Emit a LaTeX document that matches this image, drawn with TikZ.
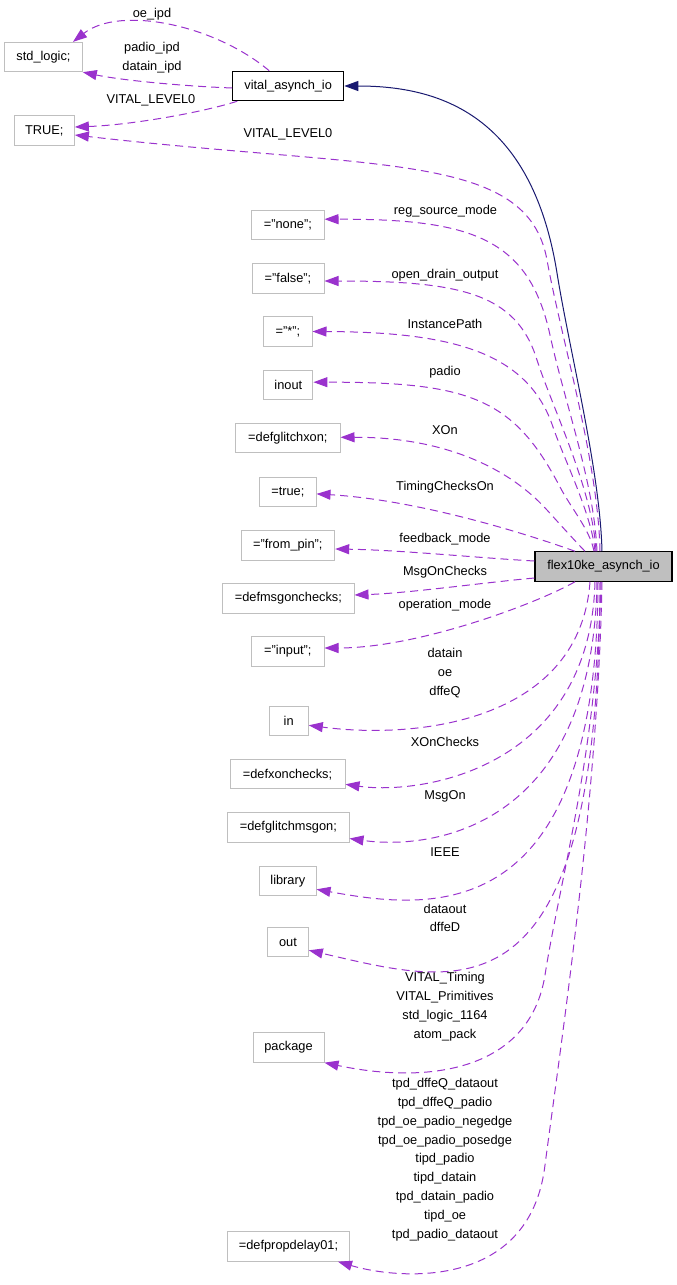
\documentclass[tikz,border=0pt]{standalone}
\usepackage{fontspec}
\setmainfont{Liberation Sans}
\usetikzlibrary{arrows.meta,calc}
\definecolor{depc}{RGB}{154,50,205}
\definecolor{inhc}{RGB}{25,25,112}
\definecolor{boxgray}{RGB}{191,191,191}
\begin{document}
\begin{tikzpicture}[x=1pt,y=-1pt,
  every node/.style={font=\fontsize{12.8}{18.8}\selectfont, inner sep=0pt},
  box/.style={draw=boxgray, line width=1pt, minimum height=29.3pt, align=center},
  rootbox/.style={box, draw=black, line width=1.2pt},
  lbl/.style={align=center},
  dep/.style={draw=depc, line width=1pt, dash pattern=on 8pt off 5pt, -{Triangle[length=14pt,width=10pt]}},
  inh/.style={draw=inhc, line width=1pt, -{Triangle[length=14pt,width=10pt]}}]
\useasboundingbox (0,0) rectangle (677,1285);
% nodes
\node[box, minimum width=77.6pt] (stdlogic) at (43.5,57) {std\_logic;};
\node[rootbox, minimum width=111pt] (vital) at (288.2,86) {vital\_asynch\_io};
\node[box, minimum width=60.3pt] (ntrue) at (44.2,130.5) {TRUE;};
\node[box, minimum width=72.3pt] (none) at (287.85,225.2) {="none";};
\node[box, minimum width=72pt] (false) at (288,278.5) {="false";};
\node[box, minimum width=48.3pt] (star) at (287.85,331.5) {="*";};
\node[box, minimum width=49.3pt] (inout) at (288.3,385.2) {inout};
\node[box, minimum width=104.3pt] (glxon) at (287.85,438.3) {=defglitchxon;};
\node[box, minimum width=56.3pt] (truev) at (287.85,491.9) {=true;};
\node[box, minimum width=93.7pt] (frompin) at (287.85,545.5) {="from\_pin";};
\node[box, draw=black, fill=boxgray, line width=1.2pt, minimum width=137pt] (flex) at (603.5,566.5) {flex10ke\_asynch\_io};
\node[box, minimum width=131.3pt] (msgchk) at (288.35,598.5) {=defmsgonchecks;};
\node[box, minimum width=72.3pt] (input) at (287.85,651.5) {="input";};
\node[box, minimum width=39.3pt] (in) at (288.65,721.3) {in};
\node[box, minimum width=115pt] (xonchk) at (287.5,774.3) {=defxonchecks;};
\node[box, minimum width=121.3pt] (glmsg) at (288.35,827.5) {=defglitchmsgon;};
\node[box, minimum width=56.3pt] (library) at (287.85,881.3) {library};
\node[box, minimum width=40.6pt] (out) at (288,942.3) {out};
\node[box, minimum width=71pt] (package) at (288.5,1047.5) {package};
\node[box, minimum width=121.6pt] (propdelay) at (288.5,1246.5) {=defpropdelay01;};
% labels
\node[lbl] (l1) at (152,14) {oe\_ipd};
\node[lbl] (l2) at (152,57.5) {padio\_ipd\\datain\_ipd};
\node[lbl] (l3) at (151,100) {VITAL\_LEVEL0};
\node[lbl] (l4) at (288,134) {VITAL\_LEVEL0};
\node[lbl] (l5) at (445.5,211) {reg\_source\_mode};
\node[lbl] (l6) at (445,275) {open\_drain\_output};
\node[lbl] (l7) at (445,324) {InstancePath};
\node[lbl] (l8) at (445,372) {padio};
\node[lbl] (l9) at (445,430) {XOn};
\node[lbl] (l10) at (445,487) {TimingChecksOn};
\node[lbl] (l11) at (445,539) {feedback\_mode};
\node[lbl] (l12) at (445,572) {MsgOnChecks};
\node[lbl] (l13) at (445,605) {operation\_mode};
\node[lbl] (l14) at (445,673.3) {datain\\oe\\dffeQ};
\node[lbl] (l15) at (445,742.3) {XOnChecks};
\node[lbl] (l16) at (445,796.7) {MsgOn};
\node[lbl] (l17) at (445,852.3) {IEEE};
\node[lbl] (l18) at (445,918) {dataout\\dffeD};
\node[lbl] (l19) at (445,1006.5) {VITAL\_Timing\\VITAL\_Primitives\\std\_logic\_1164\\atom\_pack};
\node[lbl] (l20) at (445,1159.5) {tpd\_dffeQ\_dataout\\tpd\_dffeQ\_padio\\tpd\_oe\_padio\_negedge\\tpd\_oe\_padio\_posedge\\tipd\_padio\\tipd\_datain\\tpd\_datain\_padio\\tipd\_oe\\tpd\_padio\_dataout};
% edges from vital_asynch_io
\draw[dep] ($(vital.north)+(-19,0)$) .. controls (215,25) and (120,5) .. ($(stdlogic.north)+(29.5,0)$);
\draw[dep] ($(vital.west)+(0,2)$) .. controls (180,86) and (120,80) .. (stdlogic.south east);
\draw[dep] ($(vital.south)+(-51,0)$) .. controls (200,113) and (130,125) .. ($(ntrue.east)+(0,-3.5)$);
% inheritance
\draw[inh] ($(flex.north)+(-1.5,0)$) .. controls (600,470) and (569.7,352) .. (557,273) .. controls (531.6,115.1) and (440,86) .. (vital.east);
% upper edges
\draw[dep] ($(flex.north)+(-3.5,0)$) .. controls (598,460) and (561.2,338.7) .. (547,260) .. controls (527.4,151.8) and (380,170) .. ($(ntrue.east)+(0,4.5)$);
\draw[dep] ($(flex.north)+(-6.5,0)$) .. controls (594,482) and (564.8,403.4) .. (550,335) .. controls (528.8,237.3) and (470,219) .. ($(none.east)+(0,-6)$);
\draw[dep] ($(flex.north)+(-7.5,0)$) .. controls (593,490) and (551.7,405.9) .. (537,360) .. controls (516.4,293) and (460,281) .. ($(false.east)+(0,2.5)$);
\draw[dep] ($(flex.north)+(-8.5,0)$) .. controls (592,515) and (562.5,455.4) .. (553,427) .. controls (527.6,351.2) and (450,332) .. (star.east);
\draw[dep] ($(flex.north)+(-9.5,0)$) .. controls (590,530) and (571.6,509) .. (560,487) .. controls (513.7,398.4) and (470,382) .. ($(inout.east)+(0,-3)$);
\draw[dep] ($(flex.north)+(-18.5,0)$) .. controls (575,541) and (557,521) .. (547,510) .. controls (506.8,465.6) and (440,437) .. ($(glxon.east)+(0,-1)$);
\draw[dep] ($(flex.north)+(-28.5,0)$) .. controls (530,535) and (420,500) .. ($(truev.east)+(0,2)$);
\draw[dep] ($(flex.west)+(0,-5.5)$) .. controls (480,558) and (400,550) .. ($(frompin.east)+(0,3.5)$);
\draw[dep] ($(flex.west)+(0,11.5)$) .. controls (480,583) and (410,593) .. ($(msgchk.east)+(0,-3.5)$);
\draw[dep] ($(flex.south)+(-28.5,0)$) .. controls (540,602) and (420,648) .. ($(input.east)+(0,-3.5)$);
% lower edges
\draw[dep] ($(flex.south)+(-13.5,0)$) .. controls (580,720) and (420,740) .. ($(in.east)+(0,4)$);
\draw[dep] ($(flex.south)+(-8.5,0)$) .. controls (590,770) and (420,795) .. ($(xonchk.east)+(0,10)$);
\draw[dep] ($(flex.south)+(-6.5,0)$) .. controls (593,830) and (430,850) .. ($(glmsg.east)+(0,11)$);
\draw[dep] ($(flex.south)+(-5.5,0)$) .. controls (597,930) and (430,910) .. ($(library.east)+(0,8)$);
\draw[dep] ($(flex.south)+(-3.5,0)$) .. controls (598,1030) and (460,985) .. ($(out.east)+(0,8)$);
\draw[dep] ($(flex.south)+(-2.5,0)$) .. controls (597,750) and (560,880) .. (545,975) .. controls (530,1070) and (430,1085) .. (package.south east);
\draw[dep] ($(flex.south)+(-1.5,0)$) .. controls (598,800) and (560,1050) .. (545,1165) .. controls (530,1290) and (400,1280) .. ($(propdelay.south)+(49.5,0)$);
\end{tikzpicture}
\end{document}
